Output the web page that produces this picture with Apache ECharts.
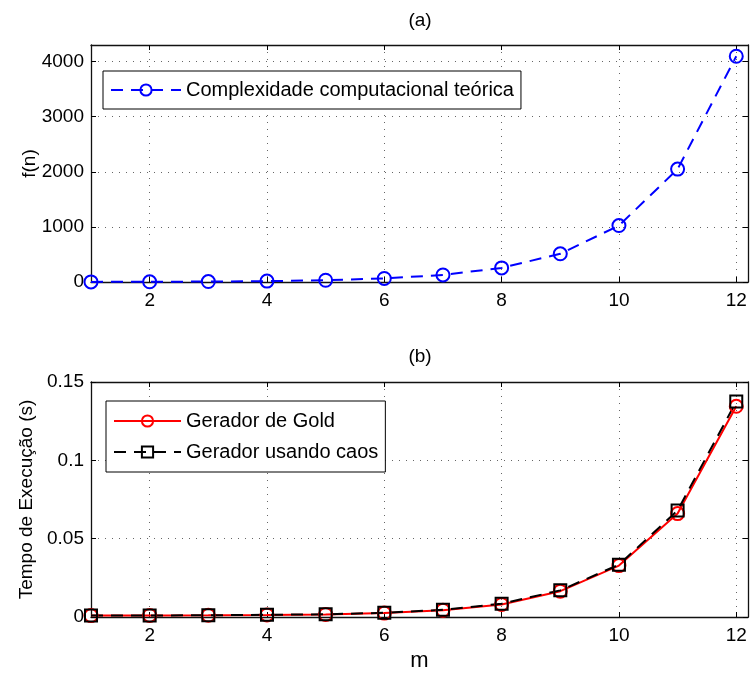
<!DOCTYPE html>
<html>
<head>
<meta charset="utf-8">
<script src="https://cdn.jsdelivr.net/npm/echarts@6/dist/echarts.min.js"></script>
<style>
  html, body { margin: 0; padding: 0; background: #fff; }
  #main { width: 750px; height: 682px; }
</style>
</head>
<body>
<div id="main"></div>
<script>
// dados
var m = [1, 2, 3, 4, 5, 6, 7, 8, 9, 10, 11, 12];
var fTeorica = [2, 4, 8, 16, 32, 64, 128, 256, 512, 1024, 2048, 4096];
var tGold = [0.0009, 0.001, 0.0011, 0.0013, 0.0016, 0.0025, 0.0043, 0.008, 0.0165, 0.0328, 0.066, 0.1345];
var tCaos = [0.0009, 0.001, 0.0011, 0.0014, 0.0017, 0.0027, 0.0046, 0.0085, 0.017, 0.0334, 0.068, 0.1375];

var xTicks = [2, 4, 6, 8, 10, 12];
var yTicksA = [0, 1000, 2000, 3000, 4000];
var yTicksB = [0, 0.05, 0.1, 0.15];

var FONT = 'Liberation Sans';

function pares(xs, ys) {
    return xs.map(function (x, i) { return [x, ys[i]]; });
}

var gridLine = { show: true, lineStyle: { color: '#666', width: 1, type: [1, 6] } };
var eixo = { show: true, onZero: false, lineStyle: { color: '#111', width: 1.3 } };

function xAxisDe(grid, pos, labels) {
    return {
        type: 'value', gridIndex: grid, position: pos, min: 1, max: 12.2,
        axisLine: eixo,
        axisTick: { show: true, inside: true, length: 5, customValues: xTicks, lineStyle: { color: '#000' } },
        axisLabel: { show: labels, customValues: xTicks, color: '#000', fontFamily: FONT, fontSize: 19, margin: 9 },
        splitLine: labels ? Object.assign({ customValues: xTicks }, gridLine) : { show: false }
    };
}

function yAxisDe(grid, pos, labels, max, ticks) {
    return {
        type: 'value', gridIndex: grid, position: pos, min: 0, max: max,
        axisLine: eixo,
        axisTick: { show: true, inside: true, length: 5, customValues: ticks, lineStyle: { color: '#000' } },
        axisLabel: {
            show: labels, customValues: ticks, color: '#000', fontFamily: FONT, fontSize: 19, margin: 7,
            formatter: function (v) { return String(v); }
        },
        splitLine: labels ? Object.assign({ customValues: ticks }, gridLine) : { show: false }
    };
}

var xAxes = [
    xAxisDe(0, 'bottom', true), xAxisDe(0, 'top', false),
    xAxisDe(1, 'bottom', true), xAxisDe(1, 'top', false)
];
xAxes[2].name = 'm';
xAxes[2].nameLocation = 'middle';
xAxes[2].nameGap = 33;
xAxes[2].nameMoveOverlap = false;
xAxes[2].nameTextStyle = { color: '#000', fontFamily: FONT, fontSize: 22 };

var yAxes = [
    yAxisDe(0, 'left', true, 4300, yTicksA), yAxisDe(0, 'right', false, 4300, yTicksA),
    yAxisDe(1, 'left', true, 0.15, yTicksB), yAxisDe(1, 'right', false, 0.15, yTicksB)
];
yAxes[0].name = 'f(n)';
yAxes[0].nameLocation = 'middle';
yAxes[0].nameGap = 52;
yAxes[0].nameMoveOverlap = false;
yAxes[0].nameTextStyle = { color: '#000', fontFamily: FONT, fontSize: 19 };
yAxes[2].name = 'Tempo de Execução (s)';
yAxes[2].nameLocation = 'middle';
yAxes[2].nameGap = 55;
yAxes[2].nameMoveOverlap = false;
yAxes[2].nameTextStyle = { color: '#000', fontFamily: FONT, fontSize: 19 };

var chart = echarts.init(document.getElementById('main'));

var option = {
    backgroundColor: '#fff',
    animation: false,
    textStyle: { fontFamily: FONT },
    graphic: [
        { type: 'text', x: 420, y: 21, style: { text: '(a)', fill: '#000', font: '19px ' + FONT, textAlign: 'center', textVerticalAlign: 'middle' } },
        { type: 'text', x: 420, y: 357, style: { text: '(b)', fill: '#000', font: '19px ' + FONT, textAlign: 'center', textVerticalAlign: 'middle' } }
    ],
    grid: [
        { left: 91, top: 45, width: 657, height: 237 },
        { left: 91, top: 382, width: 657, height: 235 }
    ],
    xAxis: xAxes,
    yAxis: yAxes,
    legend: [
        {
            data: ['Complexidade computacional teórica'],
            left: 103, top: 71,
            itemWidth: 70, itemHeight: 14, itemGap: 12,
            padding: [9, 7, 9, 7],
            borderColor: '#000', borderWidth: 1, backgroundColor: '#fff',
            textStyle: { color: '#000', fontFamily: FONT, fontSize: 20 }
        },
        {
            data: ['Gerador de Gold', 'Gerador usando caos'],
            orient: 'vertical',
            left: 106, top: 401,
            itemWidth: 67, itemHeight: 14, itemGap: 11,
            padding: [10, 7, 10, 7],
            borderColor: '#000', borderWidth: 1, backgroundColor: '#fff',
            textStyle: { color: '#000', fontFamily: FONT, fontSize: 20 }
        }
    ],
    series: [
        {
            name: 'Complexidade computacional teórica',
            type: 'line', xAxisIndex: 0, yAxisIndex: 0,
            data: pares(m, fTeorica),
            symbol: 'circle', symbolSize: 13,
            lineStyle: { color: '#0000ff', width: 2, type: [12, 8] },
            itemStyle: { color: 'rgba(0,0,0,0)', borderColor: '#0000ff', borderWidth: 2 }
        },
        {
            name: 'Gerador de Gold',
            type: 'line', xAxisIndex: 2, yAxisIndex: 2,
            data: pares(m, tGold),
            symbol: 'circle', symbolSize: 13,
            lineStyle: { color: '#ff0000', width: 2 },
            itemStyle: { color: 'rgba(0,0,0,0)', borderColor: '#ff0000', borderWidth: 2 }
        },
        {
            name: 'Gerador usando caos',
            type: 'line', xAxisIndex: 2, yAxisIndex: 2,
            data: pares(m, tCaos),
            symbol: 'rect', symbolSize: 12,
            lineStyle: { color: '#000', width: 2, type: [12, 8] },
            itemStyle: { color: 'rgba(0,0,0,0)', borderColor: '#000', borderWidth: 2 }
        }
    ]
};

chart.setOption(option);
</script>
</body>
</html>
